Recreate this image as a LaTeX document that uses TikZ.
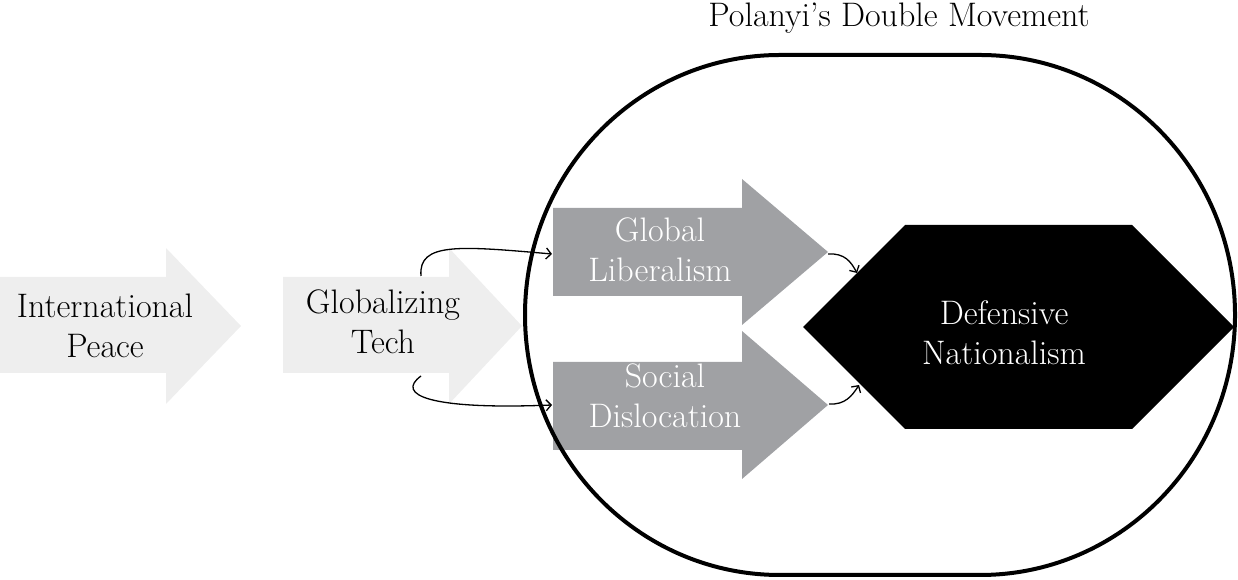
\documentclass[tikz,border=0pt]{standalone}
\usetikzlibrary{arrows.meta}
\definecolor{lightarrow}{HTML}{EEEEEE}
\definecolor{darkarrow}{HTML}{A0A1A4}
\begin{document}
\begin{tikzpicture}[x=1pt,y=1pt,
  lbl/.style={font=\fontsize{34}{40}\selectfont, align=center, inner sep=0pt},
  conn/.style={line width=1.3pt, -{Straight Barb[length=5pt,width=11pt]}},
  lightshape/.style={fill=lightarrow, draw=none},
  darkshape/.style={fill=darkarrow, draw=none},
  outline/.style={line width=4pt, draw=black},
]
\useasboundingbox (0,0) rectangle (1238,580);
% title
\node[lbl, anchor=base] (title) at (899,553) {Polanyi’s Double Movement};
% light arrows
\fill[lightshape] (0,207) -- (166,207) -- (166,176) -- (241,254) -- (166,332) -- (166,303) -- (0,303) -- cycle;
\fill[lightshape] (283,207) -- (449,207) -- (449,176) -- (522,254) -- (449,332) -- (449,303) -- (283,303) -- cycle;
% dark arrows
\fill[darkshape] (553,284) -- (742,284) -- (742,255) -- (828,328) -- (742,401) -- (742,372) -- (553,372) -- cycle;
\fill[darkshape] (553,130) -- (742,130) -- (742,101) -- (828,175) -- (742,249) -- (742,218) -- (553,218) -- cycle;
% hexagon
\fill[black] (803,253) -- (905,355) -- (1132,355) -- (1234,253) -- (1132,151) -- (905,151) -- cycle;
% double movement outline
\draw[outline] (780,525) -- (980,525)
  arc[start angle=90, end angle=-90, x radius=255, y radius=260]
  -- (780,5)
  arc[start angle=270, end angle=90, x radius=255, y radius=260] -- cycle;
% labels
\node[lbl] (ip) at (105,254) {International\\Peace};
\node[lbl] (gt) at (383,258) {Globalizing\\Tech};
\node[lbl, text=white] (gl) at (660,330) {Global\\Liberalism};
\node[lbl, text=white] (sd) at (665,184) {Social\\Dislocation};
\node[lbl, text=white] (dn) at (1004,247) {Defensive\\Nationalism};
% connector end points
\coordinate (gtTop) at (421,304);
\coordinate (gtBot) at (421,204);
\coordinate (glIn) at (552,326);
\coordinate (sdIn) at (552,175);
\coordinate (glTip) at (828,326);
\coordinate (sdTip) at (829,176);
\coordinate (dnTop) at (857,307);
\coordinate (dnBot) at (859,195);
% connectors
\draw[conn] (gtTop) .. controls (418,338) and (460,334) .. (glIn);
\draw[conn] (gtBot) .. controls (395,185) and (430,170) .. (sdIn);
\draw[conn] (glTip) .. controls (845,327) and (851,318) .. (dnTop);
\draw[conn] (sdTip) .. controls (845,175) and (852,184) .. (dnBot);
\end{tikzpicture}
\end{document}
